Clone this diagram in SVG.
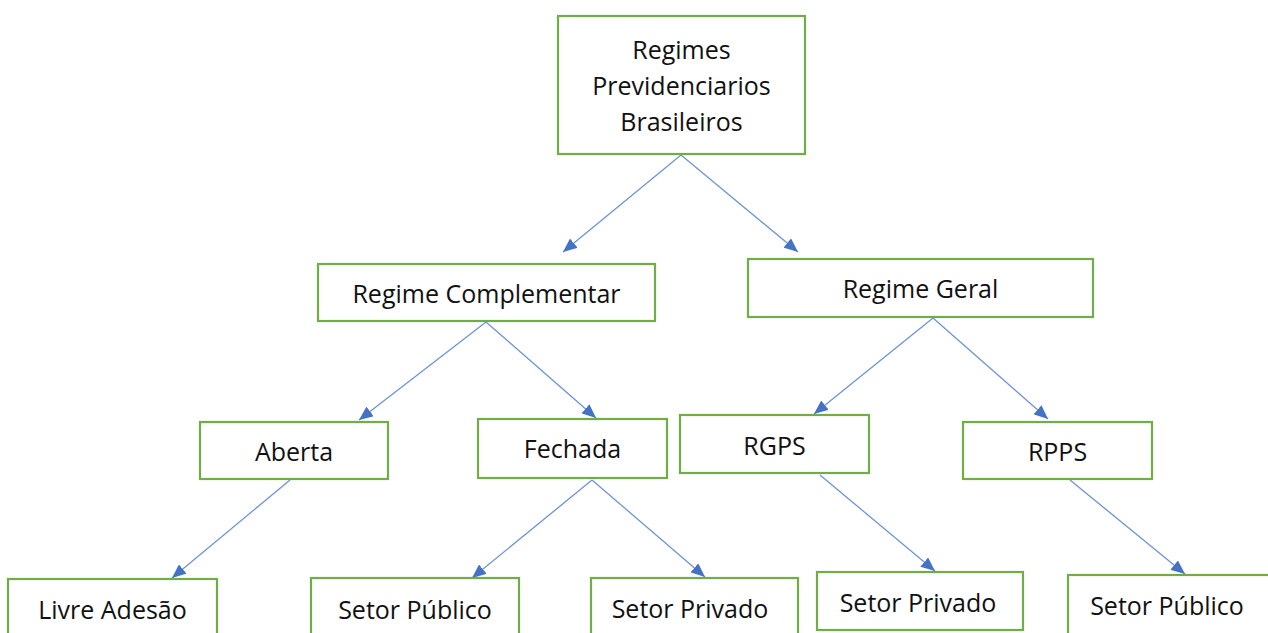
<svg xmlns="http://www.w3.org/2000/svg" width="1268" height="633" viewBox="0 0 1268 633">
<defs>
<style>
.box{fill:#ffffff;stroke:#70AD47;stroke-width:2.2}
.lbl{font-family:"Open Sans","Liberation Sans",sans-serif;font-size:25px;fill:#111111;text-anchor:middle;dominant-baseline:central}
.edge{stroke:#6F93D6;stroke-width:1.3;fill:none;marker-end:url(#ah)}
</style>
<marker id="ah" viewBox="0 0 14 12" refX="14" refY="6" markerWidth="14" markerHeight="12" markerUnits="userSpaceOnUse" orient="auto">
<path d="M0,0 L14,6 L0,12 z" fill="#4472C4"/>
</marker>
</defs>
<rect width="1268" height="633" fill="#ffffff"/>
<g id="connectors">
<line class="edge" x1="681" y1="155" x2="563" y2="252"/>
<line class="edge" x1="681" y1="155" x2="798" y2="252"/>
<line class="edge" x1="486" y1="322" x2="359" y2="420"/>
<line class="edge" x1="486" y1="322" x2="596" y2="418"/>
<line class="edge" x1="933" y1="318" x2="814" y2="414"/>
<line class="edge" x1="933" y1="318" x2="1048" y2="419"/>
<line class="edge" x1="290" y1="480" x2="172" y2="578"/>
<line class="edge" x1="592" y1="480" x2="472" y2="578"/>
<line class="edge" x1="592" y1="480" x2="705" y2="577"/>
<line class="edge" x1="820" y1="475" x2="935" y2="571"/>
<line class="edge" x1="1070" y1="480" x2="1185" y2="574"/>
</g>
<g id="n-root">
<rect class="box" x="558" y="16" width="247" height="138"/>
<text class="lbl" x="681.5" y="49">Regimes</text>
<text class="lbl" x="681.5" y="85">Previdenciarios</text>
<text class="lbl" x="681.5" y="121">Brasileiros</text>
</g>
<g id="n-complementar">
<rect class="box" x="318" y="264" width="337" height="57"/>
<text class="lbl" x="486.5" y="292.5">Regime Complementar</text>
</g>
<g id="n-geral">
<rect class="box" x="748" y="259" width="345" height="58"/>
<text class="lbl" x="920.5" y="288">Regime Geral</text>
</g>
<g id="n-aberta">
<rect class="box" x="200" y="422" width="188" height="57"/>
<text class="lbl" x="294" y="451">Aberta</text>
</g>
<g id="n-fechada">
<rect class="box" x="478" y="419" width="189" height="59"/>
<text class="lbl" x="572.5" y="448">Fechada</text>
</g>
<g id="n-rgps">
<rect class="box" x="680" y="415" width="189" height="58"/>
<text class="lbl" x="774.5" y="445">RGPS</text>
</g>
<g id="n-rpps">
<rect class="box" x="963" y="422" width="189" height="57"/>
<text class="lbl" x="1057.5" y="451">RPPS</text>
</g>
<g id="n-livre">
<rect class="box" x="8" y="579" width="209" height="70"/>
<text class="lbl" x="112.5" y="609">Livre Adesão</text>
</g>
<g id="n-publico1">
<rect class="box" x="311" y="578" width="208" height="70"/>
<text class="lbl" x="415" y="609">Setor Público</text>
</g>
<g id="n-privado1">
<rect class="box" x="591" y="578" width="207" height="70"/>
<text class="lbl" x="690" y="608">Setor Privado</text>
</g>
<g id="n-privado2">
<rect class="box" x="817" y="572" width="206" height="58"/>
<text class="lbl" x="918" y="602">Setor Privado</text>
</g>
<g id="n-publico2">
<rect class="box" x="1068" y="575" width="220" height="70"/>
<text class="lbl" x="1167" y="605">Setor Público</text>
</g>
</svg>
